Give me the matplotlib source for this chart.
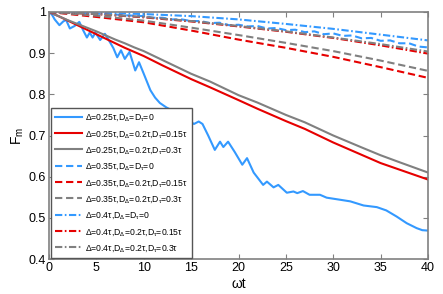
import matplotlib
matplotlib.use("Agg")
import matplotlib.pyplot as plt

plt.rcParams['font.family'] = ['Liberation Sans', 'DejaVu Sans']
plt.rcParams['mathtext.fontset'] = 'custom'
plt.rcParams['mathtext.rm'] = 'Liberation Sans'
plt.rcParams['mathtext.it'] = 'Liberation Sans'

BLUE = '#3399ff'
RED = '#e60000'
GRAY = '#808080'

# Delta=0.25tau, D=0 (oscillating)
t_b1 = [0, 0.3, 0.6, 1.1, 1.5, 1.8, 2.2, 2.7, 3.2, 3.6, 4.0, 4.3, 4.6, 4.9, 5.4, 5.9,
        6.4, 6.8, 7.2, 7.6, 8.0, 8.5, 9.1, 9.5, 10.0, 10.7, 11.2, 11.7, 12.4, 13.0,
        13.5, 14.2, 14.9, 15.3, 15.8, 16.2, 16.8, 17.5, 18.05, 18.4, 18.9, 19.6,
        20.4, 20.9, 21.6, 22.6, 23.0, 23.7, 24.2, 25.1, 25.8, 26.2, 26.8, 27.5,
        28.6, 29.3, 30.7, 31.8, 33.2, 34.6, 35.6, 36.7, 37.75, 38.8, 39.4, 40]
f_b1 = [1.0, 0.994, 0.982, 0.968, 0.977, 0.981, 0.960, 0.966, 0.976, 0.956, 0.938,
        0.950, 0.938, 0.950, 0.932, 0.947, 0.928, 0.912, 0.890, 0.907, 0.886, 0.903,
        0.858, 0.878, 0.850, 0.810, 0.792, 0.779, 0.768, 0.761, 0.754, 0.742, 0.734,
        0.728, 0.734, 0.728, 0.700, 0.665, 0.685, 0.672, 0.685, 0.660, 0.629, 0.645,
        0.610, 0.580, 0.588, 0.574, 0.580, 0.561, 0.564, 0.560, 0.565, 0.556, 0.556,
        0.549, 0.544, 0.540, 0.530, 0.526, 0.518, 0.503, 0.487, 0.475, 0.470, 0.469]

# solid red / gray
t_s = [0, 1, 2, 3, 4, 5, 6, 7, 8, 9, 10, 12, 15, 17, 20, 22, 25, 27, 30, 33, 35, 37, 40]
f_r1 = [1.0, 0.99, 0.979, 0.968, 0.957, 0.946, 0.935, 0.924, 0.913, 0.903, 0.893, 0.870,
        0.837, 0.817, 0.786, 0.765, 0.735, 0.716, 0.683, 0.653, 0.633, 0.617, 0.593]
f_g1 = [1.0, 0.99, 0.98, 0.971, 0.962, 0.953, 0.943, 0.933, 0.924, 0.914, 0.905, 0.883,
        0.850, 0.831, 0.798, 0.780, 0.750, 0.732, 0.700, 0.671, 0.652, 0.635, 0.610]

# Delta=0.35tau, D=0 (dashed blue, small wiggles)
t_b2 = list(range(41))
f_b2 = [1.000, 0.999, 0.998, 0.998, 0.997, 0.996, 0.995, 0.994, 0.992, 0.991, 0.990,
        0.986, 0.986, 0.982, 0.982, 0.978, 0.978, 0.973, 0.974, 0.968, 0.969, 0.965,
        0.966, 0.960, 0.961, 0.956, 0.957, 0.951, 0.953, 0.946, 0.948, 0.942, 0.943,
        0.936, 0.937, 0.930, 0.931, 0.924, 0.924, 0.916, 0.914]

t_5 = [0, 5, 10, 15, 20, 25, 30, 35, 40]
f_r2 = [1.0, 0.988, 0.975, 0.955, 0.933, 0.913, 0.891, 0.866, 0.840]
f_g2 = [1.0, 0.991, 0.979, 0.962, 0.944, 0.925, 0.905, 0.882, 0.857]
f_b3 = [1.0, 0.998, 0.995, 0.990, 0.982, 0.971, 0.959, 0.945, 0.931]
f_r3 = [1.0, 0.995, 0.987, 0.977, 0.965, 0.952, 0.937, 0.919, 0.899]
f_g3 = [1.0, 0.995, 0.988, 0.978, 0.966, 0.953, 0.938, 0.922, 0.904]

labels = [
    'Δ=0.25τ,D$_{\\mathregular{Δ}}$=D$_{\\mathregular{τ}}$=0',
    'Δ=0.25τ,D$_{\\mathregular{Δ}}$=0.2τ,D$_{\\mathregular{τ}}$=0.15τ',
    'Δ=0.25τ,D$_{\\mathregular{Δ}}$=0.2τ,D$_{\\mathregular{τ}}$=0.3τ',
    'Δ=0.35τ,D$_{\\mathregular{Δ}}$=D$_{\\mathregular{τ}}$=0',
    'Δ=0.35τ,D$_{\\mathregular{Δ}}$=0.2τ,D$_{\\mathregular{τ}}$=0.15τ',
    'Δ=0.35τ,D$_{\\mathregular{Δ}}$=0.2τ,D$_{\\mathregular{τ}}$=0.3τ',
    'Δ=0.4τ,D$_{\\mathregular{Δ}}$=D$_{\\mathregular{τ}}$=0',
    'Δ=0.4τ,D$_{\\mathregular{Δ}}$=0.2τ,D$_{\\mathregular{τ}}$=0.15τ',
    'Δ=0.4τ,D$_{\\mathregular{Δ}}$=0.2τ,D$_{\\mathregular{τ}}$=0.3τ',
]

fig = plt.figure(figsize=(4.43, 2.94), dpi=100)
ax = fig.add_axes([49 / 443, 1 - 259 / 294, 379 / 443, 247 / 294])

lw = 1.5
dash = (0, (3.5, 1.8))
dashdot = (0, (3.5, 1.2, 0.8, 1.2))
ax.plot(t_b1, f_b1, color=BLUE, lw=lw, ls='-', label=labels[0])
ax.plot(t_s, f_r1, color=RED, lw=lw, ls='-', label=labels[1])
ax.plot(t_s, f_g1, color=GRAY, lw=lw, ls='-', label=labels[2])
ax.plot(t_b2, f_b2, color=BLUE, lw=lw, ls=dash, label=labels[3])
ax.plot(t_5, f_r2, color=RED, lw=lw, ls=dash, label=labels[4])
ax.plot(t_5, f_g2, color=GRAY, lw=lw, ls=dash, label=labels[5])
ax.plot(t_5, f_b3, color=BLUE, lw=lw, ls=dashdot, label=labels[6])
ax.plot(t_5, f_r3, color=RED, lw=lw, ls=dashdot, label=labels[7])
ax.plot(t_5, f_g3, color=GRAY, lw=lw, ls=dashdot, label=labels[8])

ax.set_xlim(0, 40)
ax.set_ylim(0.4, 1.0)
ax.set_xticks(range(0, 41, 5))
ax.set_yticks([0.4, 0.5, 0.6, 0.7, 0.8, 0.9, 1.0])
ax.set_yticklabels(['0.4', '0.5', '0.6', '0.7', '0.8', '0.9', '1'])
ax.tick_params(direction='in', top=True, right=True, length=3.5, width=0.8,
               color=GRAY, labelsize=9, pad=2)
for sp in ax.spines.values():
    sp.set_color(GRAY)
    sp.set_linewidth(1.2)

ax.set_xlabel('ωt', fontsize=10, labelpad=2)
ax.set_ylabel('F$_{\\mathregular{m}}$', fontsize=10, labelpad=2)

leg = ax.legend(loc='lower left', bbox_to_anchor=(0.004, 0.003), fontsize=6.2,
                handlelength=3.1, handletextpad=0.35, labelspacing=0.62,
                borderpad=0.5, borderaxespad=0, fancybox=False, framealpha=1)
leg.get_frame().set_edgecolor('#555555')
leg.get_frame().set_linewidth(1.0)

fig.savefig('out.png', dpi=100)
